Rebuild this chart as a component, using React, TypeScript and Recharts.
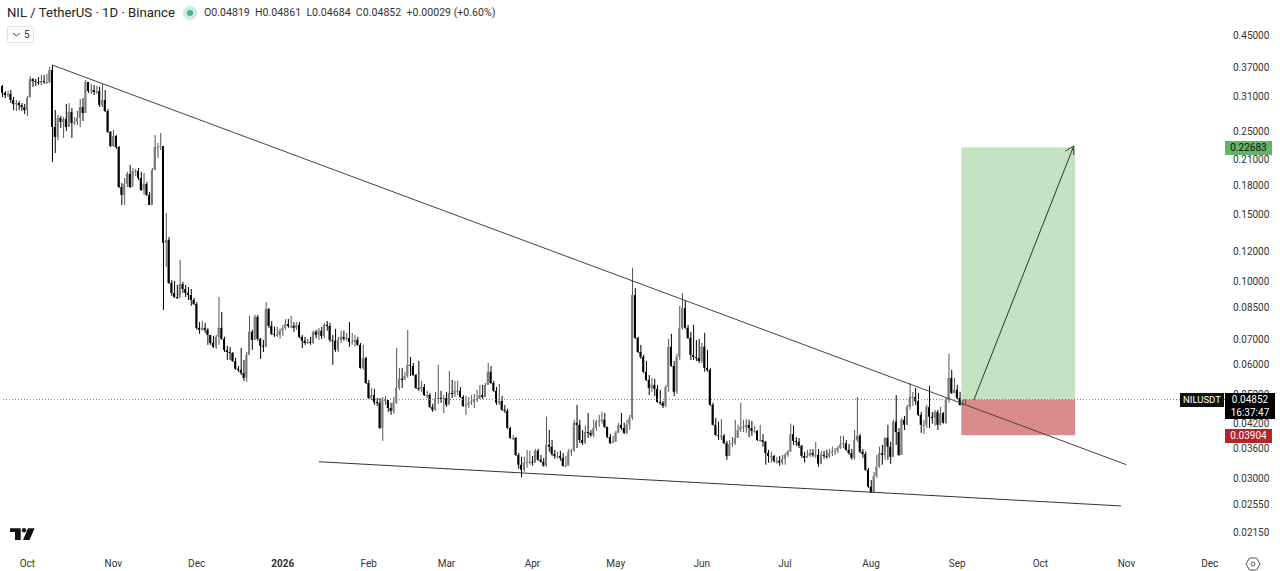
import { Bar, ComposedChart, ReferenceArea, ReferenceLine, XAxis, YAxis } from 'recharts';

const opens = [
  .3296, .316, .312, .314, .3025, .295, .297, .293, .2895, .2846,
  .307, .3439, .3397, .3377, .3356, .3397, .3377, .3377, .3633, .2566,
  .2414, .271, .2645, .2693, .2566, .2811, .2629, .2645, .271, .2898,
  .2794, .3377, .3196, .3216, .3177, .3196, .2934, .3025, .2829, .2489,
  .2284, .2428, .227, .1778, .1694, .1811, .1926, .1778, .1961, .1961,
  .1879, .1746, .1811, .1694, .1593, .1973, .227, .227, .2284, .1264,
  .1287, .0989, .0931, .0908, .0903, .0983, .0954, .0931, .0919, .0892,
  .087, .0752, .0743, .0752, .0743, .072, .0686, .067, .0712, .0752,
  .0703, .0657, .0649, .0645, .0614, .0586, .0582, .0571, .0554, .0638,
  .0734, .0699, .0804, .0703, .0674, .067, .0844, .0761, .0725, .072,
  .072, .0739, .0752, .077, .0761, .0761, .0752, .0766, .0712, .0695,
  .0686, .069, .0686, .0734, .072, .0739, .0716, .0766, .0761, .0699,
  .0695, .0657, .0699, .0712, .0703, .0707, .069, .069, .0699, .0678,
  .0589, .0626, .0537, .049, .0499, .0478, .0476, .0408, .0484, .0484,
  .0461, .0453, .0476, .0521, .0551, .0547, .0561, .06, .0596, .0564,
  .0521, .0518, .0524, .0499, .0499, .0464, .0456, .049, .049, .0487,
  .049, .047, .0505, .0502, .0512, .0512, .0493, .0467, .047, .0476,
  .0478, .0487, .0487, .0499, .0493, .0531, .0575, .0537, .0512, .0476,
  .0481, .0456, .0453, .0408, .0384, .0384, .0346, .0326, .0316, .033,
  .0332, .0332, .033, .0355, .0336, .0332, .0324, .0368, .0364, .0348,
  .0344, .0344, .034, .0324, .0324, .0353, .0355, .0421, .0416, .0379,
  .0372, .0398, .0396, .0391, .0408, .0424, .0426, .0429, .0411, .0386,
  .0372, .0375, .0396, .0416, .0408, .0396, .0416, .0434, .0919, .0707,
  .0649, .063, .0575, .0547, .0521, .0531, .0518, .0478, .0476, .0467,
  .0524, .067, .0596, .0509, .063, .0752, .0849, .0752, .0707, .0638,
  .063, .0626, .0614, .067, .0589, .0582, .047, .0416, .0391, .0389,
  .0389, .0372, .0344, .037, .0372, .0384, .0403, .0411, .0411, .0416,
  .0408, .0401, .0401, .0379, .0379, .0375, .035, .0344, .0344, .0334,
  .0334, .033, .0338, .0346, .0353, .0393, .0377, .0375, .0366, .0344,
  .034, .0344, .035, .0346, .0346, .0328, .0346, .0344, .0342, .035,
  .0353, .0355, .0361, .037, .0372, .0357, .035, .034, .0379, .0389,
  .0353, .0348, .0316, .0285, .0275, .0304, .0322, .035, .0346, .0384,
  .0364, .0342, .0424, .0398, .0346, .0429, .0416, .0464, .0493, .0493,
  .0481, .0442, .0416, .0416, .0464, .0437, .0434, .045, .0416, .0447,
  .0421, .0484, .0554, .0505, .0515, .049, .047, .04819,
];

const closes = [
  .316, .312, .314, .3025, .295, .297, .293, .2895, .2846, .307,
  .3439, .3397, .3377, .3356, .3397, .3377, .3377, .3633, .2566, .2414,
  .271, .2645, .2693, .2566, .2811, .2629, .2645, .271, .2898, .2794,
  .3377, .3196, .3216, .3177, .3196, .2934, .3025, .2829, .2489, .2284,
  .2428, .227, .1778, .1694, .1811, .1926, .1778, .1961, .1961, .1879,
  .1746, .1811, .1694, .1593, .1973, .227, .227, .2284, .1264, .1287,
  .0989, .0931, .0908, .0903, .0983, .0954, .0931, .0919, .0892, .087,
  .0752, .0743, .0752, .0743, .072, .0686, .067, .0712, .0752, .0703,
  .0657, .0649, .0645, .0614, .0586, .0582, .0571, .0554, .0638, .0734,
  .0699, .0804, .0703, .0674, .067, .0844, .0761, .0725, .072, .072,
  .0739, .0752, .077, .0761, .0761, .0752, .0766, .0712, .0695, .0686,
  .069, .0686, .0734, .072, .0739, .0716, .0766, .0761, .0699, .0695,
  .0657, .0699, .0712, .0703, .0707, .069, .069, .0699, .0678, .0589,
  .0626, .0537, .049, .0499, .0478, .0476, .0408, .0484, .0484, .0461,
  .0453, .0476, .0521, .0551, .0547, .0561, .06, .0596, .0564, .0521,
  .0518, .0524, .0499, .0499, .0464, .0456, .049, .049, .0487, .049,
  .047, .0505, .0502, .0512, .0512, .0493, .0467, .047, .0476, .0478,
  .0487, .0487, .0499, .0493, .0531, .0575, .0537, .0512, .0476, .0481,
  .0456, .0453, .0408, .0384, .0384, .0346, .0326, .0316, .033, .0332,
  .0332, .033, .0355, .0336, .0332, .0324, .0368, .0364, .0348, .0344,
  .0344, .034, .0324, .0324, .0353, .0355, .0421, .0416, .0379, .0372,
  .0398, .0396, .0391, .0408, .0424, .0426, .0429, .0411, .0386, .0372,
  .0375, .0396, .0416, .0408, .0396, .0416, .0434, .0919, .0707, .0649,
  .063, .0575, .0547, .0521, .0531, .0518, .0478, .0476, .0467, .0524,
  .067, .0596, .0509, .063, .0752, .0849, .0752, .0707, .0638, .063,
  .0626, .0614, .067, .0589, .0582, .047, .0416, .0391, .0389, .0389,
  .0372, .0344, .037, .0372, .0384, .0403, .0411, .0411, .0416, .0408,
  .0401, .0401, .0379, .0379, .0375, .035, .0344, .0344, .0334, .0334,
  .033, .0338, .0346, .0353, .0393, .0377, .0375, .0366, .0344, .034,
  .0344, .035, .0346, .0346, .0328, .0346, .0344, .0342, .035, .0353,
  .0355, .0361, .037, .0372, .0357, .035, .034, .0379, .0389, .0353,
  .0348, .0316, .0285, .0275, .0304, .0322, .035, .0346, .0384, .0364,
  .0342, .0424, .0398, .0346, .0429, .0416, .0464, .0493, .0493, .0481,
  .0442, .0416, .0416, .0464, .0437, .0434, .045, .0416, .0447, .0421,
  .0484, .0554, .0505, .0515, .049, .047, .0476, .04852,
];

const highs = [
  .3316, .3196, .3196, .3216, .3081, .3025, .3007, .297, .2952, .31,
  .3502, .346, .3439, .3481, .3524, .3524, .3546, .37, .3746, .2846,
  .276, .2743, .2727, .2952, .297, .288, .2727, .2829, .3043, .3062,
  .3418, .3356, .3336, .3316, .3296, .3276, .3336, .3216, .2863, .2503,
  .2519, .2443, .2284, .1822, .1879, .1949, .2034, .1997, .1985, .1997,
  .1949, .1937, .1833, .1725, .1997, .2443, .2326, .2473, .2284, .1517,
  .131, .1008, .1002, .0977, .1139, .0996, .0977, .0965, .0954, .0903,
  .0881, .0779, .0784, .0775, .0752, .072, .0716, .072, .0908, .0829,
  .0712, .0674, .067, .0649, .0626, .0596, .0665, .0618, .0649, .0809,
  .0743, .0814, .0814, .0707, .0699, .0881, .0849, .0784, .0757, .0757,
  .0748, .0766, .0794, .0794, .0809, .0779, .0779, .0779, .072, .0712,
  .0703, .0712, .0739, .0743, .0752, .0757, .0775, .0784, .0775, .072,
  .0748, .0712, .0739, .0739, .0729, .0779, .0729, .072, .0712, .0686,
  .0678, .063, .0547, .0521, .0518, .049, .049, .0493, .0496, .0484,
  .0476, .0493, .0665, .0589, .0589, .0575, .0743, .063, .0607, .0568,
  .0614, .0544, .0534, .0512, .0505, .0473, .0509, .06, .0512, .0499,
  .0509, .0578, .0547, .0544, .0544, .0524, .0499, .0496, .0493, .0499,
  .0502, .0515, .0531, .0531, .0537, .0607, .0596, .0544, .0524, .0534,
  .0496, .047, .0459, .0411, .0391, .0386, .035, .0342, .0342, .0357,
  .0355, .0344, .0359, .0359, .0346, .034, .0437, .0403, .0379, .0357,
  .0353, .0355, .035, .0344, .0359, .0359, .0429, .047, .0429, .0403,
  .0414, .0447, .0403, .0429, .0429, .0442, .045, .0447, .0411, .0393,
  .0389, .0401, .0421, .0447, .0421, .0429, .0442, .1085, .0959, .0712,
  .0678, .0638, .0614, .0564, .0554, .0551, .0531, .0515, .0481, .0531,
  .0703, .0725, .0614, .0642, .086, .0931, .0892, .0766, .0734, .0766,
  .0699, .0703, .0686, .0729, .0657, .0589, .0476, .0434, .0424, .0431,
  .0393, .0377, .0379, .0386, .0429, .0416, .0476, .0429, .0431, .0429,
  .0426, .0414, .0403, .0416, .0393, .0377, .0357, .0353, .0346, .0342,
  .0344, .0346, .035, .0357, .0419, .0414, .0386, .0384, .0368, .0353,
  .0357, .0359, .0359, .0375, .0359, .0355, .0355, .0357, .0359, .0364,
  .0361, .0366, .0389, .0389, .0379, .037, .0359, .0403, .0493, .0393,
  .0359, .0353, .032, .0297, .0312, .0346, .0364, .0368, .0386, .0416,
  .0375, .0429, .0499, .0408, .0434, .0439, .047, .0537, .0509, .0521,
  .0505, .045, .0429, .047, .0528, .045, .0456, .0456, .0464, .045,
  .049, .0642, .0582, .0554, .0531, .0509, .0484, .04861,
];

const lows = [
  .3081, .3062, .3081, .297, .2846, .2829, .2846, .2829, .2777, .2743,
  .3081, .3276, .3296, .3316, .3316, .3336, .3336, .3356, .2072, .2188,
  .237, .255, .2399, .2503, .2566, .2399, .2597, .2597, .2566, .2661,
  .2794, .3158, .3138, .3119, .3138, .2898, .2898, .2811, .2473, .227,
  .227, .2243, .1767, .1593, .1593, .1778, .1767, .1879, .1902, .1856,
  .1735, .1694, .1684, .1593, .1603, .1973, .2123, .2229, .0839, .1091,
  .0983, .0914, .0903, .0897, .0919, .0931, .0908, .0892, .086, .0865,
  .0743, .0725, .0739, .0729, .0678, .0678, .0665, .0661, .0678, .0699,
  .0649, .0618, .0618, .0611, .0582, .0575, .0564, .0544, .0541, .0638,
  .0657, .0699, .0695, .0622, .0649, .067, .0752, .072, .0712, .0712,
  .0703, .0716, .0743, .0752, .0752, .0734, .0743, .0707, .0665, .0678,
  .0682, .0678, .0682, .0707, .0699, .0703, .0707, .0739, .069, .06,
  .0649, .0649, .0686, .0695, .0695, .067, .0678, .067, .0674, .0586,
  .0582, .0534, .0487, .0484, .047, .0467, .0406, .0377, .047, .045,
  .0442, .0445, .0473, .0515, .0521, .0547, .0554, .0561, .0561, .0518,
  .0512, .0509, .0496, .049, .0461, .045, .0453, .0473, .0476, .0447,
  .0464, .0473, .049, .0493, .0499, .049, .0464, .0442, .0461, .047,
  .0461, .0478, .049, .0487, .0496, .0531, .0534, .0509, .047, .047,
  .0453, .0447, .0406, .0382, .0379, .0344, .0318, .0302, .0312, .032,
  .0326, .0324, .0332, .0334, .033, .0322, .0322, .0353, .0344, .0338,
  .0338, .0334, .0322, .0322, .033, .0344, .0353, .0361, .0372, .0368,
  .037, .0384, .0386, .0386, .0401, .0411, .0419, .0408, .0384, .037,
  .0372, .0375, .0396, .0403, .0393, .0393, .0403, .0429, .0703, .0645,
  .0622, .0571, .0544, .0499, .0509, .0496, .0476, .047, .0461, .0464,
  .0509, .0593, .0496, .0502, .0618, .0743, .0748, .0703, .0618, .0618,
  .0614, .0607, .0607, .0575, .0575, .0467, .0414, .0389, .0379, .0379,
  .037, .0336, .0344, .0364, .0368, .0384, .0398, .0398, .0396, .0386,
  .0389, .0396, .0377, .0375, .0364, .0326, .033, .033, .033, .0328,
  .0324, .0326, .0326, .0342, .0353, .0368, .0366, .0361, .034, .033,
  .034, .0342, .0342, .034, .0322, .0328, .0338, .0338, .034, .0344,
  .0346, .035, .0359, .0361, .0355, .0346, .0336, .0336, .0375, .035,
  .034, .0314, .0283, .0275, .0277, .0301, .032, .0326, .0336, .0336,
  .0328, .0342, .0368, .0344, .0346, .0403, .0416, .0456, .0467, .047,
  .0439, .0396, .0393, .0408, .0408, .0419, .0414, .0403, .0414, .0419,
  .0419, .0476, .0502, .0505, .0487, .0467, .0467, .04684,
];

const priceTicks = [
  0.45, 0.37, 0.31, 0.25, 0.21, 0.18, 0.15, 0.12, 0.1, 0.085, 0.07, 0.06, 0.05, 0.042, 0.036, 0.03, 0.0255, 0.0215,
];
const monthDays = [
  '2025-10-01', '2025-11-01', '2025-12-01', '2026-01-01', '2026-02-01', '2026-03-01', '2026-04-01', '2026-05-01',
  '2026-06-01', '2026-07-01', '2026-08-01', '2026-09-01', '2026-10-01', '2026-11-01', '2026-12-01',
];
const monthLabels = ['Oct', 'Nov', 'Dec', '2026', 'Feb', 'Mar', 'Apr', 'May', 'Jun', 'Jul', 'Aug', 'Sep', 'Oct', 'Nov', 'Dec'];

const lastPrice = 0.04852;
const targetPrice = 0.22683;
const stopPrice = 0.03904;
const rows = Array.from({ length: 441 }, (_, i) => {
  const day = new Date(Date.UTC(2025, 8, 22 + i)).toISOString().slice(0, 10);
  if (i >= closes.length) return { day, up: false, wick: null, body: null };
  const o = opens[i];
  const c = closes[i];
  return { day, up: c >= o, wick: [lows[i], highs[i]], body: [Math.min(o, c), Math.max(o, c)] };
});

const candleRect = (upColor: string) => (props: any) => {
  if (!props.payload || !props.payload.wick) return <g />;
  return (
    <rect
      x={props.x}
      y={props.y}
      width={props.width}
      height={Math.max(props.height, 1)}
      fill={props.payload.up ? upColor : '#000'}
    />
  );
};

const MonthTick = (props: any) => {
  const label = monthLabels[monthDays.indexOf(props.payload.value)];
  return (
    <text x={props.x} y={567} textAnchor="middle" fontSize={10} fill="#333" fontWeight={label === '2026' ? 700 : 400}>
      {label}
    </text>
  );
};

const tag: React.CSSProperties = {
  position: 'absolute',
  left: 1225,
  fontSize: 10,
  textAlign: 'center',
  lineHeight: '14px',
};

export default function App() {
  return (
    <div style={{ position: 'fixed', left: 0, top: 0, width: 1280, height: 571, background: '#fff', fontFamily: 'Roboto, sans-serif', overflow: 'hidden' }}>
      <ComposedChart width={1280} height={571} data={rows} margin={{ top: 0, right: 0, bottom: 0, left: 1 }} barGap={0} barCategoryGap={0} style={{ fontFamily: 'Roboto, sans-serif' }}>
        <XAxis xAxisId="wicks" dataKey="day" height={24} ticks={monthDays} interval={0} tick={<MonthTick />} tickLine={false} axisLine={false} />
        <XAxis xAxisId="bodies" dataKey="day" hide />
        <YAxis
          orientation="right"
          width={55}
          scale="log"
          domain={[0.01972, 0.5572]}
          allowDataOverflow
          ticks={priceTicks}
          interval={0}
          tickLine={false}
          axisLine={false}
          tickMargin={2}
          tick={{ fontSize: 10, fill: '#333' }}
          tickFormatter={(v: number) => v.toFixed(5)}
        />
        <ReferenceArea xAxisId="wicks" x1="2026-09-03" x2="2026-10-13" y1={lastPrice} y2={targetPrice} fill="#c3e3c2" fillOpacity={1} stroke="none" />
        <ReferenceArea xAxisId="wicks" x1="2026-09-03" x2="2026-10-13" y1={stopPrice} y2={lastPrice} fill="#da8c8c" fillOpacity={1} stroke="none" />
        <ReferenceLine xAxisId="wicks" y={lastPrice} stroke="#777" strokeDasharray="1 2" />
        <Bar xAxisId="wicks" dataKey="wick" barSize={1} isAnimationActive={false} shape={candleRect('#555')} />
        <Bar xAxisId="bodies" dataKey="body" barSize={2} isAnimationActive={false} shape={candleRect('#7c7c7c')} />
        <ReferenceLine xAxisId="wicks" stroke="#444" segment={[{ x: '2025-10-10', y: 0.3746 }, { x: '2026-11-01', y: 0.0326 }]} />
        <ReferenceLine xAxisId="wicks" stroke="#333" segment={[{ x: '2026-01-14', y: 0.0332 }, { x: '2026-10-30', y: 0.02534 }]} />
        <ReferenceLine xAxisId="wicks" stroke="#333" segment={[{ x: '2026-09-07', y: 0.0484 }, { x: '2026-10-13', y: 0.2284 }]} />
        <ReferenceLine xAxisId="wicks" stroke="#333" segment={[{ x: '2026-10-10', y: 0.2214 }, { x: '2026-10-13', y: 0.2284 }]} />
        <ReferenceLine xAxisId="wicks" stroke="#333" segment={[{ x: '2026-10-13', y: 0.2162 }, { x: '2026-10-13', y: 0.2284 }]} />
      </ComposedChart>

      <div style={{ position: 'absolute', left: 7, top: 5, fontSize: 13.15, lineHeight: '16px', color: '#222', whiteSpace: 'nowrap' }}>NIL / TetherUS · 1D · Binance</div>
      <div style={{ position: 'absolute', left: 183, top: 6, width: 14, height: 14, borderRadius: 7, background: '#cdeae4' }} />
      <div style={{ position: 'absolute', left: 187, top: 10, width: 6, height: 6, borderRadius: 3, background: '#45b39d' }} />
      <div style={{ position: 'absolute', left: 204, top: 6, fontSize: 10.6, lineHeight: '14px', color: '#333', whiteSpace: 'pre' }}>O0.04819  H0.04861  L0.04684  C0.04852  +0.00029 (+0.60%)</div>
      <div style={{ position: 'absolute', left: 7, top: 26, width: 25, height: 15, border: '1px solid #e4e4e4', borderRadius: 2, fontSize: 10, lineHeight: '15px', color: '#333' }}>
        <svg width={9} height={6} style={{ position: 'absolute', left: 4, top: 5 }}>
          <path d="M1 1 L4.5 4 L8 1" stroke="#444" fill="none" />
        </svg>
        <span style={{ position: 'absolute', left: 16 }}>5</span>
      </div>

      <div style={{ ...tag, left: 1180, top: 393, width: 44, background: '#111', color: '#fff', fontSize: 9.5 }}>NILUSDT</div>
      <div style={{ ...tag, top: 393, width: 50, height: 26, background: '#000', color: '#fff', lineHeight: '13px' }}>0.04852<br />16:37:47</div>
      <div style={{ ...tag, top: 141, width: 47, background: '#62b566', color: '#111' }}>0.22683</div>
      <div style={{ ...tag, top: 429, width: 47, background: '#b8232a', color: '#fff' }}>0.03904</div>

      <svg width={40} height={20} style={{ position: 'absolute', left: 0, top: 524 }}>
        <path d="M10 4.3 H20.7 V16 H15 V8 H10 Z" fill="#111" />
        <circle cx={24} cy={6.3} r={2.2} fill="#111" />
        <path d="M28 4.3 H34.6 L29.5 16 H23 Z" fill="#111" />
      </svg>
      <svg width={16} height={16} style={{ position: 'absolute', left: 1245, top: 556 }}>
        <path d="M4.5 2 H11.5 L15 8 L11.5 14 H4.5 L1 8 Z" fill="none" stroke="#555" />
        <circle cx={8} cy={8} r={2} fill="none" stroke="#555" />
      </svg>
    </div>
  );
}
